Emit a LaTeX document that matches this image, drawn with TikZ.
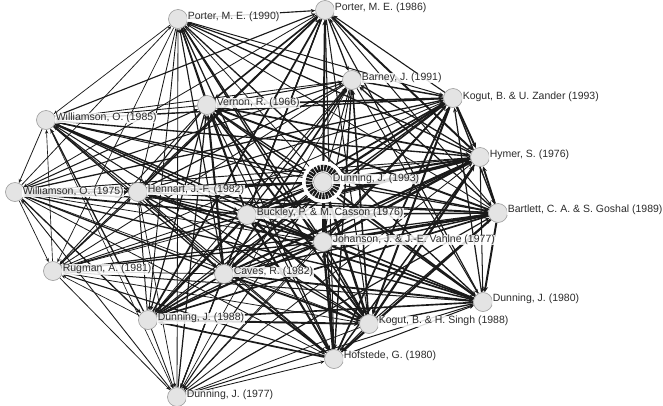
\documentclass[tikz,border=0pt]{standalone}
\usepackage{fontspec}
\setmainfont{Liberation Sans}
\usetikzlibrary{arrows.meta,backgrounds}
\definecolor{edgecol}{HTML}{1A1A1A}
\definecolor{nodefill}{HTML}{E4E4E4}
\definecolor{nodeline}{HTML}{9A9A9A}
\definecolor{labcol}{HTML}{2C2C2C}
\begin{document}
\begin{tikzpicture}[x=1pt,y=-1pt,
  nd/.style={circle,fill=nodefill,draw=nodeline,line width=0.6pt,minimum size=19pt,inner sep=0pt},
  lab/.style={anchor=west,font=\fontsize{10.5}{12}\selectfont,text=labcol,fill=white,fill opacity=0.85,text opacity=1,inner sep=0.6pt},
  ed/.style={draw=edgecol,-{Stealth[length=3pt 1.3,width=2.4pt 1.3]}}]
\useasboundingbox (0,0) rectangle (663,405);
% nodes
\node[nd] (P90) at (178,19) {};
\node[nd] (P86) at (325,10) {};
\node[nd] (BAR) at (352,80) {};
\node[nd] (KZ)  at (453,98) {};
\node[nd] (HYM) at (480,157) {};
\node[nd] (D93) at (323,182) {};
\node[nd] (VER) at (207,105) {};
\node[nd] (W85) at (46,120) {};
\node[nd] (W75) at (15,192) {};
\node[nd] (HEN) at (138,192) {};
\node[nd] (BC)  at (247,215) {};
\node[nd] (JV)  at (323,242) {};
\node[nd] (BG)  at (498,213) {};
\node[nd] (RUG) at (53,271) {};
\node[nd] (CAV) at (224,274) {};
\node[nd] (D88) at (148,320) {};
\node[nd] (D77) at (177,397) {};
\node[nd] (D80) at (483,302) {};
\node[nd] (KS)  at (369,324) {};
\node[nd] (HOF) at (334,359) {};
% edges
\def\NL{P90/0.6,P86/0.8,BAR/0.75,KZ/0.85,HYM/0.9,D93/0.95,VER/0.85,W85/0.65,W75/0.6,HEN/0.75,BC/1.0,JV/0.95,BG/0.9,RUG/0.55,CAV/0.8,D88/0.8,D77/0.55,D80/0.85,KS/0.85,HOF/0.85}
\begin{scope}[on background layer]
\pgfmathsetseed{11}
\foreach \a/\wa [count=\i] in \NL {
  \foreach \b/\wb [count=\j] in \NL {
    \ifnum\j>\i
      \pgfmathsetmacro\lw{0.55+3.4*\wa*\wb*\wa*\wb*(0.2+0.8*rnd)}
      \ifodd\numexpr\i+\j\relax
        \draw[ed,line width=\lw pt] (\a) -- (\b);
      \else
        \draw[ed,line width=\lw pt] (\b) -- (\a);
      \fi
    \fi
  }
}
\fill[white] (D93.center) circle (21pt);
\draw[edgecol,line width=6.5pt,dash pattern=on 2.2pt off 0.9pt] (D93.center) circle (14pt);
\end{scope}
% labels
\node[lab] (lP90) at (187,17) {Porter, M. E. (1990)};
\node[lab] (lP86) at (334,8) {Porter, M. E. (1986)};
\node[lab] (lBAR) at (361,78) {Barney, J. (1991)};
\node[lab] (lKZ)  at (462,97) {Kogut, B. \& U. Zander (1993)};
\node[lab] (lHYM) at (489,155) {Hymer, S. (1976)};
\node[lab] (lD93) at (332,179) {Dunning, J. (1993)};
\node[lab] (lVER) at (216,103) {Vernon, R. (1966)};
\node[lab] (lW85) at (55,118) {Williamson, O. (1985)};
\node[lab] (lW75) at (22,192) {Williamson, O. (1975)};
\node[lab] (lHEN) at (147,190) {Hennart, J.-F. (1982)};
\node[lab] (lBC)  at (256,213) {Buckley, P. \& M. Casson (1976)};
\node[lab] (lJV)  at (332,240) {Johanson, J. \& J.-E. Vahlne (1977)};
\node[lab] (lBG)  at (507,210) {Bartlett, C. A. \& S. Goshal (1989)};
\node[lab] (lRUG) at (62,269) {Rugman, A. (1981)};
\node[lab] (lCAV) at (233,272) {Caves, R. (1982)};
\node[lab] (lD88) at (157,318) {Dunning, J. (1988)};
\node[lab] (lD77) at (186,395) {Dunning, J. (1977)};
\node[lab] (lD80) at (492,299) {Dunning, J. (1980)};
\node[lab] (lKS)  at (378,321) {Kogut, B. \& H. Singh (1988)};
\node[lab] (lHOF) at (343,356) {Hofstede, G. (1980)};
\end{tikzpicture}
\end{document}
